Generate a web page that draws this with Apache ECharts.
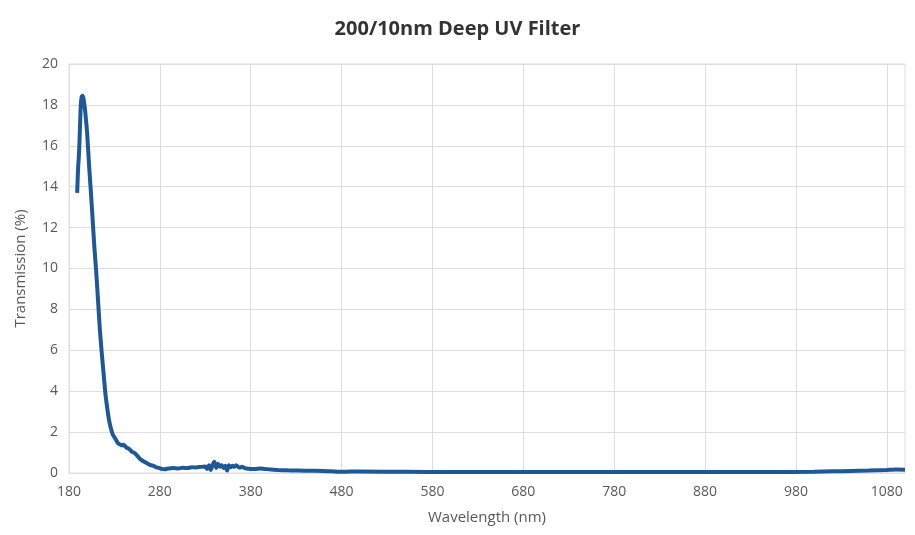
<!DOCTYPE html>
<html>
<head>
<meta charset="utf-8">
<script src="https://cdn.jsdelivr.net/npm/echarts@6/dist/echarts.min.js"></script>
<style>
  html, body { margin: 0; padding: 0; background: #fff; }
  #main { width: 915px; height: 535px; }
</style>
</head>
<body>
<div id="main"></div>
<script>
// wavelength (nm) and transmission (%)
var wavelength = [189, 190, 191, 192, 193, 194, 195, 196, 197, 198, 200, 202, 204, 206, 208, 210,
    212, 214, 216, 218, 220, 222, 224, 226, 228, 230, 232, 234, 236, 238, 240, 243, 246, 249,
    252, 255, 258, 261, 264, 267, 270, 273, 276, 279, 282, 285, 290, 295, 300, 305, 310, 315,
    320, 325, 330, 332, 334, 336, 338, 340, 342, 344, 346, 348, 350, 352, 354, 356, 358, 360,
    362, 364, 366, 368, 370, 375, 380, 385, 390, 395, 400, 410, 420, 430, 440, 450, 460, 470,
    480, 490, 500, 550, 600, 650, 700, 750, 800, 850, 900, 950, 1000, 1020, 1040, 1060, 1080,
    1090, 1100];
var transmission = [13.7, 14.9, 15.6, 16.8, 18.0, 18.4, 18.45, 18.3, 18.0, 17.6, 16.6, 15.1, 13.8, 12.4, 11.0, 9.8,
    8.4, 7.0, 5.9, 4.9, 3.9, 3.2, 2.6, 2.2, 1.9, 1.75, 1.6, 1.45, 1.4, 1.35, 1.38, 1.25, 1.18, 1.05,
    0.98, 0.85, 0.7, 0.6, 0.52, 0.45, 0.38, 0.35, 0.28, 0.25, 0.2, 0.18, 0.22, 0.24, 0.22, 0.26, 0.24, 0.28,
    0.27, 0.3, 0.32, 0.2, 0.38, 0.15, 0.4, 0.55, 0.25, 0.45, 0.3, 0.38, 0.25, 0.35, 0.12, 0.38, 0.28, 0.35,
    0.3, 0.38, 0.3, 0.26, 0.3, 0.22, 0.2, 0.2, 0.22, 0.2, 0.18, 0.15, 0.13, 0.12, 0.11, 0.11, 0.1, 0.08,
    0.06, 0.07, 0.07, 0.06, 0.05, 0.05, 0.05, 0.05, 0.05, 0.05, 0.05, 0.05, 0.06, 0.08, 0.1, 0.12, 0.15,
    0.17, 0.16];
var xTicks = [180, 280, 380, 480, 580, 680, 780, 880, 980, 1080];

var seriesData = wavelength.map(function (w, i) { return [w, transmission[i]]; });

var chart = echarts.init(document.getElementById('main'));

var textColor = '#595959';
var gridColor = '#dedede';

var option = {
    animation: false,
    title: {
        text: '200/10nm Deep UV Filter',
        left: 'center',
        top: 14,
        textStyle: {
            fontFamily: 'Open Sans',
            fontWeight: 'bold',
            fontSize: 20,
            color: '#333333'
        }
    },
    grid: {
        left: 69,
        right: 10,
        top: 64,
        bottom: 62,
        show: true,
        borderColor: gridColor,
        borderWidth: 1
    },
    xAxis: {
        type: 'value',
        min: 180,
        max: 1100,
        name: 'Wavelength (nm)',
        nameLocation: 'middle',
        nameGap: 37,
        nameTextStyle: { fontFamily: 'Open Sans', fontSize: 15, color: textColor },
        axisLine: { show: true, lineStyle: { color: gridColor } },
        axisTick: { show: false, customValues: xTicks },
        axisLabel: {
            customValues: xTicks,
            formatter: function (v) { return String(v); },
            margin: 12,
            fontFamily: 'Open Sans',
            fontSize: 14,
            color: textColor
        },
        splitLine: { show: true, customValues: xTicks, lineStyle: { color: gridColor } }
    },
    yAxis: {
        type: 'value',
        min: 0,
        max: 20,
        interval: 2,
        name: 'Transmission (%)',
        nameLocation: 'middle',
        nameGap: 41,
        nameTextStyle: { fontFamily: 'Open Sans', fontSize: 15, color: textColor },
        axisLine: { show: true, lineStyle: { color: gridColor } },
        axisTick: { show: false },
        axisLabel: {
            margin: 11,
            fontFamily: 'Open Sans',
            fontSize: 14,
            color: textColor
        },
        splitLine: { show: true, lineStyle: { color: gridColor } }
    },
    series: [{
        type: 'line',
        data: seriesData,
        showSymbol: false,
        smooth: 0.2,
        lineStyle: { color: '#1f5897', width: 4 },
        itemStyle: { color: '#1f5897' }
    }]
};

chart.setOption(option);
</script>
</body>
</html>
